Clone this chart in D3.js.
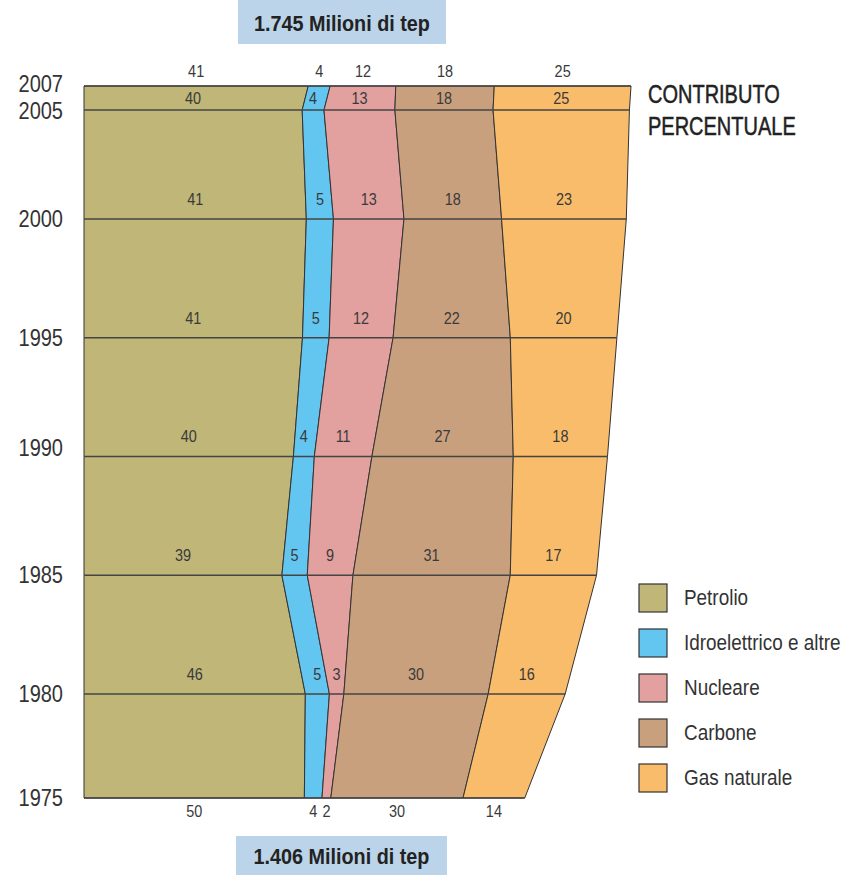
<!DOCTYPE html>
<html>
<head>
<meta charset="utf-8">
<script src="https://cdn.jsdelivr.net/npm/d3@7/dist/d3.min.js"></script>
<style>
  html, body { margin: 0; padding: 0; background: #ffffff; }
  svg { display: block; }
</style>
</head>
<body>
<svg id="chart" width="851" height="875"></svg>
<script>
// ---------- data ----------
const years     = [1975, 1980, 1985, 1990, 1995, 2000, 2005, 2007];
const totals    = [1406, 1535, 1635, 1670, 1700, 1730, 1740, 1745]; // Milioni di tep (intermediate values estimated)
const petrolio  = [50, 46, 39, 40, 41, 41, 40, 41];
const idro      = [4, 5, 5, 4, 5, 5, 4, 4];
const nucleare  = [2, 3, 9, 11, 12, 13, 13, 12];
const carbone   = [30, 30, 31, 27, 22, 18, 18, 18];
const gas       = [14, 16, 17, 18, 20, 23, 25, 25];
const seriesKeys  = ["petrolio", "idro", "nucleare", "carbone", "gas"];
const seriesNames = ["Petrolio", "Idroelettrico e altre", "Nucleare", "Carbone", "Gas naturale"];
const topTotalLabel    = "1.745 Milioni di tep";
const bottomTotalLabel = "1.406 Milioni di tep";
const titleLines = ["CONTRIBUTO", "PERCENTUALE"];

// ---------- styles ----------
const colors = ["#bfb678", "#62c6f0", "#e2a09f", "#c9a07d", "#f9bc6a"];
const font = "'Liberation Sans', Arial, Helvetica, sans-serif";

const rows = years.map((yr, i) => ({
  year: yr, total: totals[i],
  petrolio: petrolio[i], idro: idro[i], nucleare: nucleare[i], carbone: carbone[i], gas: gas[i]
}));

const stacked = d3.stack().keys(seriesKeys).offset(d3.stackOffsetExpand)(rows);

const svg = d3.select("#chart");

const x = d3.scaleLinear().domain([0, 1745]).range([84, 631]);
const y = d3.scaleLinear()
  .domain([1975, 1980, 2000, 2005, 2007])
  .range([798, 694, 219, 110, 86]);

// condensed text helper (emulates a condensed face)
function place(sel, fx, fy, sx) {
  return sel.attr("x", 0).attr("y", 0)
    .attr("transform", (d, i) => `translate(${fx(d, i)},${fy(d, i)}) scale(${sx},1)`);
}

// areas
const area = d3.area()
  .x0(d => x(d[0] * d.data.total))
  .x1(d => x(d[1] * d.data.total))
  .y(d => y(d.data.year));

svg.append("g").selectAll("path")
  .data(stacked)
  .join("path")
  .attr("d", area)
  .attr("fill", (d, i) => colors[i])
  .attr("stroke", "#333")
  .attr("stroke-width", 1)
  .attr("stroke-linejoin", "round");

// horizontal row lines
svg.append("g").selectAll("line")
  .data(rows)
  .join("line")
  .attr("x1", d => x(0))
  .attr("x2", d => x(d.total))
  .attr("y1", d => y(d.year))
  .attr("y2", d => y(d.year))
  .attr("stroke", "#444")
  .attr("stroke-width", 1.3);

// percentage labels
function labelY(yr) {
  if (yr === 2007) return y(2007) - 15;
  if (yr === 1975) return y(1975) + 13;
  if (yr === 2005) return (y(2005) + y(2007)) / 2;
  return y(yr) - 20;
}
const labelData = [];
stacked.forEach((s, si) => {
  s.forEach((d, ri) => {
    labelData.push({
      x: x((d[0] + d[1]) / 2 * d.data.total),
      y: labelY(d.data.year),
      text: rows[ri][seriesKeys[si]]
    });
  });
});
place(svg.append("g").selectAll("text")
  .data(labelData)
  .join("text"), d => d.x, d => d.y, 0.85)
  .attr("text-anchor", "middle")
  .attr("dominant-baseline", "central")
  .attr("font-family", font)
  .attr("font-size", 17)
  .attr("fill", "#3a3a3a")
  .text(d => d.text);

// year labels
function yearY(d) {
  if (d === 2007) return y(d) - 2;
  if (d === 2005) return y(d) + 1;
  if (d === 1990) return y(d) - 9;
  return y(d);
}
place(svg.append("g").selectAll("text")
  .data(years)
  .join("text"), d => 63, d => yearY(d), 0.87)
  .attr("text-anchor", "end")
  .attr("dominant-baseline", "central")
  .attr("font-family", font)
  .attr("font-size", 23)
  .attr("fill", "#333")
  .text(d => d);

// total boxes
const boxes = [
  { text: topTotalLabel, x0: 238, y0: 0, w: 208, h: 44 },
  { text: bottomTotalLabel, x0: 236, y0: 836, w: 211, h: 39 }
];
const bg = svg.append("g").selectAll("g").data(boxes).join("g");
bg.append("rect")
  .attr("x", d => d.x0).attr("y", d => d.y0)
  .attr("width", d => d.w).attr("height", d => d.h)
  .attr("fill", "#bcd4e9");
place(bg.append("text"), d => d.x0 + d.w / 2, d => d.y0 + d.h / 2 + 1, 0.9)
  .attr("text-anchor", "middle")
  .attr("dominant-baseline", "central")
  .attr("font-family", font)
  .attr("font-weight", "bold")
  .attr("font-size", 22)
  .attr("fill", "#222")
  .text(d => d.text);

// title
place(svg.append("g").selectAll("text")
  .data(titleLines)
  .join("text"), d => 648, (d, i) => 95 + i * 32, 0.8)
  .attr("dominant-baseline", "central")
  .attr("font-family", font)
  .attr("font-size", 25)
  .attr("fill", "#222")
  .attr("stroke", "#222")
  .attr("stroke-width", 0.5)
  .text(d => d);

// legend
const legend = svg.append("g").selectAll("g")
  .data(seriesNames)
  .join("g")
  .attr("transform", (d, i) => `translate(639, ${584 + i * 45})`);
legend.append("rect")
  .attr("width", 28).attr("height", 28)
  .attr("fill", (d, i) => colors[i])
  .attr("stroke", "#333")
  .attr("stroke-width", 1.2);
place(legend.append("text"), d => 45, d => 13, 0.86)
  .attr("dominant-baseline", "central")
  .attr("font-family", font)
  .attr("font-size", 22)
  .attr("fill", "#333")
  .text(d => d);
</script>
</body>
</html>
